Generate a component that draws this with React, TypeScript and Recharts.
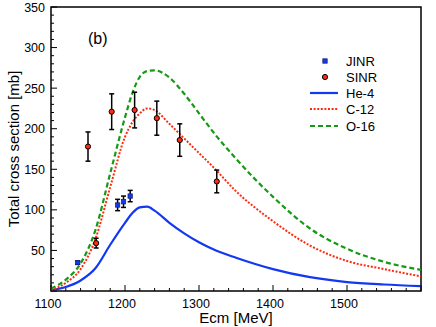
import {
    ComposedChart,
    ErrorBar,
    Line,
    ReferenceArea,
    Scatter,
    XAxis,
    YAxis,
} from 'recharts';

// theory curves, energy grid shared by the three nuclei
const energies = [1100, 1120, 1140, 1160, 1180, 1200, 1210, 1220, 1230, 1240, 1260, 1280, 1300, 1320, 1350, 1400, 1450, 1500, 1550, 1600];
const he4 = [1, 5, 13, 28, 57, 84, 96, 103, 104, 99, 84, 71, 60, 51, 41, 27, 17, 11, 8, 6];
const c12 = [1, 10, 27, 64, 128, 190, 208, 219, 225, 223, 206, 188, 170, 152, 123, 86, 56, 37, 27, 18];
const o16 = [3, 14, 34, 75, 145, 214, 244, 264, 271, 272, 263, 243, 219, 195, 163, 116, 77, 52, 36, 26];

// measurements
const jinrE = [1136, 1190, 1198, 1207];
const jinrSigma = [35, 106, 110, 117];
const jinrErr = [2, 7, 7, 7];

const sinrE = [1150, 1161, 1182, 1213, 1243, 1274, 1324];
const sinrSigma = [178, 59, 221, 223, 213, 186, 135];
const sinrErr = [18, 6, 22, 22, 21, 20, 14];

const xLabels = [1100, 1200, 1300, 1400, 1500];
const yLabels = [50, 100, 150, 200, 250, 300, 350];
const xTicks = Array.from({ length: 26 }, (_, i) => 1100 + i * 20);
const yTicks = Array.from({ length: 36 }, (_, i) => i * 10);

const BLUE = '#1238f0';
const RED = '#ff2a10';
const GREEN = '#159a15';
const FONT = '"Liberation Sans", Arial, Helvetica, sans-serif';

const curve = (vals: number[]) => energies.map((e, i) => ({ e, sigma: vals[i] }));
const he4Data = curve(he4);
const c12Data = curve(c12);
const o16Data = curve(o16);
const jinrData = jinrE.map((e, i) => ({ e, sigma: jinrSigma[i], err: jinrErr[i] }));
const sinrData = sinrE.map((e, i) => ({ e, sigma: sinrSigma[i], err: sinrErr[i] }));

function XTick({ x, y, payload }: any) {
    const v = payload.value;
    const major = v % 100 === 0;
    return (
        <g>
            <line x1={x} x2={x} y1={y} y2={y - (major ? 6 : 3)} stroke="#000" strokeWidth={1} />
            {major && xLabels.includes(v) ? (
                <text x={x - 3} y={y + 17} textAnchor="middle" fontSize={12.5} fill="#000">
                    {v}
                </text>
            ) : null}
        </g>
    );
}

function YTick({ x, y, payload }: any) {
    const v = payload.value;
    const major = v % 50 === 0;
    return (
        <g>
            <line x1={x} x2={x + (major ? 6 : 3)} y1={y} y2={y} stroke="#000" strokeWidth={1} />
            {major && yLabels.includes(v) ? (
                <text x={x - 6} y={y + 4.5} textAnchor="end" fontSize={12.5} fill="#000">
                    {v}
                </text>
            ) : null}
        </g>
    );
}

function Square({ cx, cy }: any) {
    return <rect x={cx - 2.2} y={cy - 2.2} width={4.4} height={4.4} fill={BLUE} stroke="#102070" strokeWidth={0.7} />;
}

function Dot({ cx, cy }: any) {
    return <circle cx={cx} cy={cy} r={2.6} fill={RED} stroke="#000" strokeWidth={1} />;
}

function ChartLegend() {
    const rows = [11, 27, 43, 59, 76];
    return (
        <svg width={110} height={86} style={{ position: 'absolute', left: 300, top: 50, fontFamily: FONT }}>
            <Square cx={25} cy={rows[0]} />
            <Dot cx={25} cy={rows[1]} />
            <line x1={10} x2={38} y1={rows[2]} y2={rows[2]} stroke={BLUE} strokeWidth={2.2} />
            <line x1={10} x2={38} y1={rows[3]} y2={rows[3]} stroke={RED} strokeWidth={2} strokeDasharray="2 1.6" />
            <line x1={10} x2={38} y1={rows[4]} y2={rows[4]} stroke={GREEN} strokeWidth={2.2} strokeDasharray="5 3" />
            {['JINR', 'SINR', 'He-4', 'C-12', 'O-16'].map((t, i) => (
                <text key={t} x={46} y={rows[i] + 4.5} fontSize={13} fill="#000">
                    {t}
                </text>
            ))}
        </svg>
    );
}

export default function App() {
    return (
        <div style={{ position: 'absolute', left: 0, top: 0, width: 436, height: 327, background: '#fff', fontFamily: FONT }}>
            <ComposedChart width={436} height={327} margin={{ top: 7, right: 15, left: 0, bottom: 0 }}>
                <XAxis
                    dataKey="e"
                    type="number"
                    domain={[1100, 1600]}
                    ticks={xTicks}
                    interval={0}
                    tickSize={0}
                    tickMargin={0}
                    axisLine={false}
                    tick={<XTick />}
                    height={36}
                    allowDataOverflow
                    label={({ viewBox }: any) => (
                        <text x={viewBox.x + viewBox.width / 2} y={viewBox.y + 32} textAnchor="middle" fontSize={15} fill="#000">
                            Ecm [MeV]
                        </text>
                    )}
                />
                <YAxis
                    type="number"
                    domain={[0, 350]}
                    ticks={yTicks}
                    interval={0}
                    tickSize={0}
                    tickMargin={0}
                    axisLine={false}
                    tick={<YTick />}
                    width={51}
                    allowDataOverflow
                    label={({ viewBox }: any) => {
                        const cy = viewBox.y + viewBox.height / 2;
                        return (
                            <text x={18.5} y={cy} transform={`rotate(-90 18.5 ${cy})`} textAnchor="middle" fontSize={15} fill="#000">
                                Total cross section [mb]
                            </text>
                        );
                    }}
                />
                <ReferenceArea x1={1100} x2={1600} y1={0} y2={350} fill="none" stroke="#000" strokeWidth={1.5} />
                <Line data={he4Data} dataKey="sigma" type="monotone" stroke={BLUE} strokeWidth={2.2} dot={false} isAnimationActive={false} />
                <Line data={c12Data} dataKey="sigma" type="monotone" stroke={RED} strokeWidth={2} strokeDasharray="2 1.6" dot={false} isAnimationActive={false} />
                <Line data={o16Data} dataKey="sigma" type="monotone" stroke={GREEN} strokeWidth={2.2} strokeDasharray="5 3" dot={false} isAnimationActive={false} />
                <Scatter data={jinrData} dataKey="sigma" shape={<Square />} isAnimationActive={false}>
                    <ErrorBar dataKey="err" direction="y" width={2.5} stroke="#000" strokeWidth={1.5} isAnimationActive={false} />
                </Scatter>
                <Scatter data={sinrData} dataKey="sigma" shape={<Dot />} isAnimationActive={false}>
                    <ErrorBar dataKey="err" direction="y" width={2.5} stroke="#000" strokeWidth={1.5} isAnimationActive={false} />
                </Scatter>
            </ComposedChart>
            <ChartLegend />
            <div style={{ position: 'absolute', left: 88, top: 30, fontSize: 16, lineHeight: '18px' }}>(b)</div>
        </div>
    );
}
